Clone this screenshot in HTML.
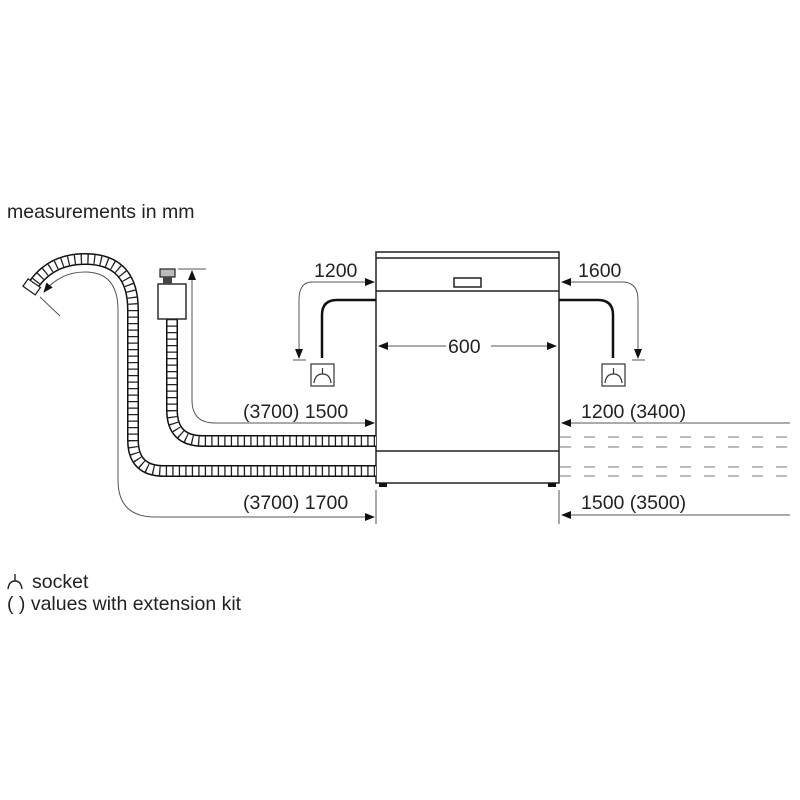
<!DOCTYPE html>
<html><head><meta charset="utf-8"><style>
html,body{margin:0;padding:0;background:#fff;}
svg{display:block;}
text{font-family:"Liberation Sans",Arial,sans-serif;fill:#222;}
</style></head><body>
<svg width="800" height="800" viewBox="0 0 800 800" xmlns="http://www.w3.org/2000/svg">
<defs>
<marker id="ah" markerWidth="10" markerHeight="8" refX="9" refY="4" orient="auto" markerUnits="userSpaceOnUse">
<path d="M0,0 L10,4 L0,8 Z" fill="#111"/></marker>
</defs>
<rect width="800" height="800" fill="#fff"/>
<text x="7" y="218" font-size="19.5">measurements in mm</text>

<!-- dishwasher -->
<g fill="none" stroke="#222" stroke-width="1.5">
<rect x="376" y="252" width="183" height="231"/>
<line x1="376" y1="258" x2="559" y2="258"/>
<line x1="376" y1="291" x2="559" y2="291"/>
<line x1="376" y1="451" x2="559" y2="451"/>
<rect x="454" y="278" width="27" height="9"/>
</g>
<rect x="379" y="483" width="8" height="4" fill="#111"/>
<rect x="548" y="483" width="8" height="4" fill="#111"/>

<!-- power cords -->
<g fill="none" stroke="#111" stroke-width="2.5">
<path d="M376,300 H337 Q322,300 322,315 V358"/>
<path d="M559,300 H598 Q613,300 613,315 V358"/>
</g>
<g fill="none" stroke="#333" stroke-width="1.2">
<rect x="311" y="364" width="23" height="22"/>
<path d="M322.5,368 V374 M314,383 Q315,374 322.5,374 Q330,374 331,383"/>
<rect x="602" y="364" width="23" height="22"/>
<path d="M613.5,368 V374 M605,383 Q606,374 613.5,374 Q621,374 622,383"/>
</g>

<!-- thin dimension arrows -->
<g fill="none" stroke="#555" stroke-width="1">
<path d="M310,282 H374" marker-end="url(#ah)"/>
<path d="M312,282 Q299,282 299,300 V358" marker-end="url(#ah)"/>
<line x1="293" y1="360" x2="306" y2="360"/>
<path d="M624,282 H562" marker-end="url(#ah)"/>
<path d="M622,282 Q638,282 638,300 V358" marker-end="url(#ah)"/>
<line x1="632" y1="360" x2="645" y2="360"/>
<path d="M446,346 H379" marker-end="url(#ah)"/>
<path d="M491,346 H556" marker-end="url(#ah)"/>
<path d="M192,400 Q192,423 215,423 H374" marker-end="url(#ah)"/>
<path d="M192,400 V271" marker-end="url(#ah)"/>
<line x1="178" y1="269" x2="206" y2="269"/>
<path d="M118,480 V310 Q118,272 85,272 Q60,272 44,292" marker-end="url(#ah)"/>
<path d="M118,480 Q118,517 155,517 H374" marker-end="url(#ah)"/>
<line x1="40" y1="297" x2="60" y2="316"/>
<path d="M790,423 H562" marker-end="url(#ah)"/>
<path d="M790,515 H562" marker-end="url(#ah)"/>
<line x1="376" y1="490" x2="376" y2="524"/>
<line x1="559" y1="490" x2="559" y2="524"/>
</g>
<g stroke="#777" stroke-width="1" stroke-dasharray="11,13">
<line x1="560" y1="437" x2="792" y2="437"/>
<line x1="560" y1="447" x2="792" y2="447"/>
<line x1="560" y1="467" x2="792" y2="467"/>
<line x1="560" y1="476" x2="792" y2="476"/>
</g>

<!-- hoses -->
<g fill="none">
<path d="M172,319 V410 Q172,441 203,441 H376" stroke="#111" stroke-width="12"/>
<path d="M172,319 V410 Q172,441 203,441 H376" stroke="#fff" stroke-width="9"/>
<path d="M172,319 V410 Q172,441 203,441 H376" stroke="#222" stroke-width="9" stroke-dasharray="1.3,5.2"/>
<path d="M32,287 Q50,259 85,259 Q133,259 133,310 V440 Q133,471 164,471 H376" stroke="#111" stroke-width="12"/>
<path d="M32,287 Q50,259 85,259 Q133,259 133,310 V440 Q133,471 164,471 H376" stroke="#fff" stroke-width="9"/>
<path d="M32,287 Q50,259 85,259 Q133,259 133,310 V440 Q133,471 164,471 H376" stroke="#222" stroke-width="9" stroke-dasharray="1.3,5.2"/>
</g>
<rect x="24" y="282" width="15" height="9" transform="rotate(35 31 287)" fill="#fff" stroke="#222" stroke-width="1.3"/>
<rect x="158" y="284" width="28" height="35" fill="#fff" stroke="#222" stroke-width="1.4"/>
<rect x="160" y="269" width="15" height="8" fill="#bbb" stroke="#222" stroke-width="1.2"/>
<rect x="163" y="277" width="9" height="7" fill="#444"/>

<!-- labels -->
<g font-size="19.5">
<text x="314" y="277">1200</text>
<text x="578" y="277">1600</text>
<text x="448" y="353">600</text>
<text x="243" y="418">(3700) 1500</text>
<text x="243" y="509">(3700) 1700</text>
<text x="581" y="418">1200 (3400)</text>
<text x="581" y="509">1500 (3500)</text>
<text x="32" y="588">socket</text>
<text x="7" y="610">( ) values with extension kit</text>
</g>
<path d="M15,574 V581 M8,589 Q9,581 15,581 Q21,581 22,589" fill="none" stroke="#222" stroke-width="1.4"/>
</svg>
</body></html>
